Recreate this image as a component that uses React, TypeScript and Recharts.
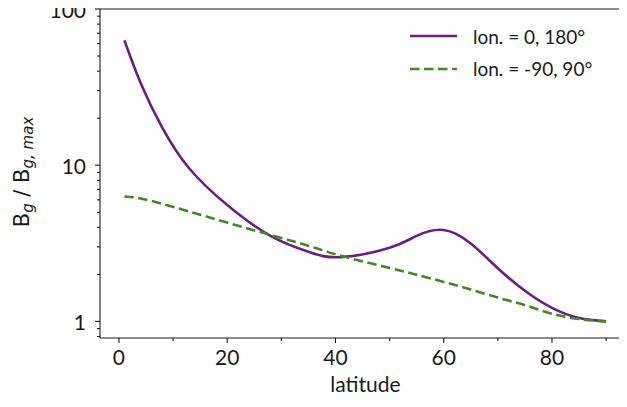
import React from "react";
import { Legend, Line, LineChart, ReferenceLine, XAxis, YAxis } from "recharts";

// latitude samples (deg)
const LATITUDE = [1, 4, 8, 13, 20, 28, 35, 41, 50, 55, 60, 65, 70, 75, 80, 85, 90];
// Bg / Bg,max for lon = 0, 180
const LON_0_180 = [63.1, 33.65, 17.42, 9.53, 5.56, 3.53, 2.79, 2.58, 2.96, 3.53, 3.85, 3.15, 2.19, 1.57, 1.22, 1.05, 1.0];
// Bg / Bg,max for lon = -90, 90
const LON_90 = [6.31, 6.13, 5.65, 5.05, 4.29, 3.58, 3.05, 2.63, 2.2, 1.99, 1.79, 1.6, 1.42, 1.27, 1.12, 1.035, 1.0];

const X_MAJOR = [0, 20, 40, 60, 80];
const X_MINOR = [10, 30, 50, 70, 90];
const Y_MAJOR = [1, 10, 100];
const Y_MINOR = [0.8, 0.9, 2, 3, 4, 5, 6, 7, 8, 9, 20, 30, 40, 50, 60, 70, 80, 90];

const SERIES = [
  { key: "a", name: "lon. = 0, 180°", color: "#6b1f7e", dash: undefined as string | undefined },
  { key: "b", name: "lon. = -90, 90°", color: "#3f8a22", dash: "9.5 4.5" },
];

const data = LATITUDE.map((lat, i) => ({ lat, a: LON_0_180[i], b: LON_90[i] }));

const FONT = "Lato, 'Open Sans', sans-serif";
const INK = "#1a1a1a";

function XTick(props: any) {
  const { x, y, payload } = props;
  const major = X_MAJOR.includes(payload.value);
  return (
    <g>
      <line x1={x} x2={x} y1={y} y2={y + (major ? 5 : 3)} stroke={INK} strokeWidth={1.1} />
      {major && (
        <text x={x} y={y + 27} textAnchor="middle" fontSize={21} fontFamily={FONT} fill={INK}>
          {payload.value}
        </text>
      )}
    </g>
  );
}

function YTick(props: any) {
  const { x, y, payload } = props;
  const major = Y_MAJOR.includes(payload.value);
  return (
    <g>
      <line x1={x} x2={x - (major ? 5 : 3)} y1={y} y2={y} stroke={INK} strokeWidth={1.1} />
      {major && (
        <text x={x - 14} y={y + 9} textAnchor="end" fontSize={21} fontFamily={FONT} fill={INK}>
          {payload.value}
        </text>
      )}
    </g>
  );
}

function YLabel() {
  return (
    <text
      x={29}
      y={172}
      transform="rotate(-90, 29, 172)"
      textAnchor="middle"
      fontSize={21}
      fontFamily="'DejaVu Sans', sans-serif"
      fill={INK}
    >
      B
      <tspan fontStyle="italic" fontSize={15} dy={4}>g</tspan>
      <tspan dy={-4}> / B</tspan>
      <tspan fontStyle="italic" fontSize={15} dy={4}>g, max</tspan>
    </text>
  );
}

function LegendBox() {
  return (
    <div style={{ fontFamily: FONT, fontSize: 19, color: INK }}>
      {SERIES.map((s) => (
        <div key={s.key} style={{ display: "flex", alignItems: "center", height: 32.6 }}>
          <svg width={47} height={6} style={{ marginRight: 16 }}>
            <line x1={0} x2={47} y1={3} y2={3} stroke={s.color} strokeWidth={2.6} strokeDasharray={s.dash} />
          </svg>
          <span>{s.name}</span>
        </div>
      ))}
    </div>
  );
}

export default function App() {
  return (
    <div style={{ margin: -8, width: 627, height: 407, overflow: "hidden", position: "relative", background: "#fff" }}>
      <LineChart width={631} height={407} data={data} margin={{ top: 9, right: 0, bottom: 0, left: 0 }}>
        <XAxis
          dataKey="lat"
          type="number"
          domain={[-3.5, 94.6]}
          allowDataOverflow
          ticks={[...X_MAJOR, ...X_MINOR].sort((p, q) => p - q)}
          interval={0}
          height={69}
          tickSize={0}
          tickMargin={0}
          tickLine={false}
          axisLine={{ stroke: INK, strokeWidth: 1.1 }}
          tick={<XTick />}
          label={{ value: "latitude", position: "insideBottom", offset: 15, fontSize: 21, fontFamily: FONT, fill: INK }}
        />
        <YAxis
          type="number"
          scale="log"
          domain={[0.783, 100]}
          allowDataOverflow
          ticks={[...Y_MINOR, ...Y_MAJOR].sort((p, q) => p - q)}
          interval={0}
          width={100}
          tickSize={0}
          tickMargin={0}
          tickLine={false}
          axisLine={{ stroke: INK, strokeWidth: 1.1 }}
          tick={<YTick />}
          label={{ content: () => <YLabel /> }}
        />
        <ReferenceLine y={100} stroke={INK} strokeWidth={1.1} ifOverflow="visible" />
        <Legend
          layout="horizontal"
          verticalAlign="middle"
          align="center"
          content={() => <LegendBox />}
          wrapperStyle={{ position: "absolute", top: 20, left: 410, width: "auto", height: "auto" }}
        />
        {SERIES.map((s) => (
          <Line
            key={s.key}
            dataKey={s.key}
            name={s.name}
            type="natural"
            stroke={s.color}
            strokeWidth={2.6}
            strokeDasharray={s.dash}
            dot={false}
            activeDot={false}
            isAnimationActive={false}
          />
        ))}
      </LineChart>
    </div>
  );
}
